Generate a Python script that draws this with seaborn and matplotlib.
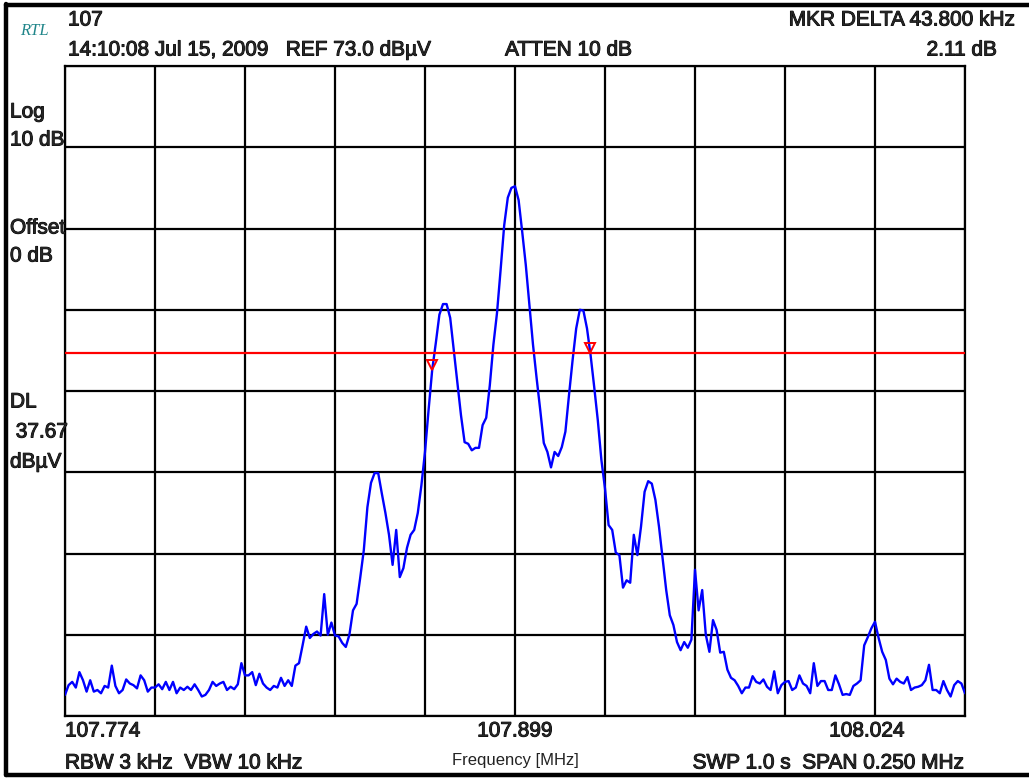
import numpy as np
import pandas as pd
import matplotlib
matplotlib.use("Agg")
import matplotlib.pyplot as plt
import matplotlib.patheffects as pe
import seaborn as sns
from matplotlib.lines import Line2D

# --- sweep settings ---
start_mhz = 107.774
center_mhz = 107.899
stop_mhz = 108.024
ref_level = 73.0      # dBuV, top of screen
db_per_div = 10
n_ydiv = 8
display_line = 37.67  # DL, dBuV

# trace level in dBuV, one reading per 1 kHz (251 sweep points)
level_dbuv = [
    -4.4, -3.2, -2.8, -3.5, -1.6, -2.6, -4.0, -2.6, -4.0, -3.8,
    -4.2, -3.3, -3.5, -0.8, -3.3, -4.2, -3.8, -2.5, -3.0, -3.2,
    -3.6, -2.0, -2.6, -4.0, -3.5, -3.5, -3.1, -3.7, -2.8, -3.8,
    -2.8, -4.2, -3.5, -3.8, -3.4, -3.8, -3.1, -3.8, -4.6, -4.4,
    -3.8, -2.8, -3.3, -3.0, -2.8, -3.8, -3.4, -3.7, -3.1, -0.5,
    -2.0, -2.0, -1.6, -3.2, -1.8, -3.0, -3.5, -3.8, -3.3, -3.5,
    -2.3, -3.3, -2.6, -3.3, -0.8, -0.5, 1.7, 4.0, 2.6, 3.1,
    3.4, 2.9, 8.0, 3.0, 4.5, 2.9, 2.8, 2.0, 1.5, 3.0,
    6.0, 6.8, 10.0, 13.4, 18.7, 21.7, 22.9, 22.9, 20.4, 18.0,
    15.3, 11.6, 15.9, 10.1, 11.2, 13.7, 15.3, 15.9, 18.0, 21.4,
    25.5, 30.7, 35.6, 38.9, 42.4, 43.7, 43.7, 42.0, 38.0, 34.1,
    30.0, 26.7, 26.5, 25.7, 26.0, 26.0, 28.8, 29.7, 33.7, 38.7,
    42.6, 47.9, 53.4, 56.8, 58.0, 58.2, 56.5, 52.6, 48.5, 43.6,
    38.7, 34.6, 30.7, 26.6, 25.5, 23.6, 25.5, 25.0, 26.1, 28.0,
    32.5, 36.8, 40.7, 43.0, 42.9, 40.7, 37.4, 33.5, 29.4, 24.5,
    21.0, 16.5, 15.9, 13.1, 12.8, 8.8, 9.7, 9.4, 15.3, 12.8,
    16.3, 20.6, 21.9, 21.6, 19.6, 16.3, 12.4, 8.5, 5.4, 4.2,
    2.1, 1.1, 2.1, 1.4, 2.4, 11.0, 6.0, 8.5, 3.0, 0.9,
    4.8, 3.6, 0.8, 0.9, -1.3, -2.3, -2.6, -3.3, -4.2, -3.5,
    -3.5, -2.1, -2.8, -3.0, -2.5, -3.4, -3.8, -1.5, -4.2, -3.2,
    -2.8, -2.7, -3.8, -3.5, -2.0, -3.0, -3.3, -4.2, -0.5, -3.3,
    -2.7, -2.7, -3.8, -3.8, -2.0, -3.1, -4.4, -4.3, -4.4, -3.3,
    -3.0, -2.6, 1.7, 2.7, 3.8, 4.6, 2.6, 0.9, -0.1, -2.4,
    -3.1, -2.4, -2.8, -3.0, -2.2, -3.8, -3.5, -3.4, -3.2, -2.6,
    -0.7, -3.8, -3.8, -4.2, -2.7, -3.8, -4.6, -3.2, -2.7, -3.0,
    -4.2,
]

# delta markers
marker_freq = [107.8760, 107.9198]
marker_level = [35.7, 37.8]

freq = np.linspace(start_mhz, stop_mhz, len(level_dbuv))
df = pd.DataFrame({"freq": freq, "level": level_dbuv})

sns.set_style("white")
plt.rcParams["font.family"] = ["Liberation Sans", "DejaVu Sans"]

W, H = 1029, 778
fig = plt.figure(figsize=(W / 100, H / 100), dpi=100)
ax = fig.add_axes([65 / W, 1 - 716 / H, 900 / W, 650 / H])

bottom_level = ref_level - db_per_div * n_ydiv
ax.set_xlim(start_mhz, stop_mhz)
ax.set_ylim(bottom_level, ref_level)
ax.set_xticks(np.linspace(start_mhz, stop_mhz, 11))
ax.set_yticks(np.linspace(bottom_level, ref_level, n_ydiv + 1))
ax.grid(True, color="black", lw=1.6)
ax.tick_params(length=0, labelbottom=False, labelleft=False)
for sp in ax.spines.values():
    sp.set_color("black")
    sp.set_linewidth(1.6)

sns.lineplot(data=df, x="freq", y="level", ax=ax, color="#0000ff", lw=1.7,
             estimator=None, sort=False, zorder=3)
ax.axhline(display_line, color="#ff0000", lw=1.6, zorder=4)
ax.plot(marker_freq, [v + 0.45 for v in marker_level], ls="none", marker="v",
        ms=7, mfc="none", mec="#ff0000", mew=1.4, zorder=5)
ax.set_xlabel("")
ax.set_ylabel("")

heavy = [pe.withStroke(linewidth=0.7, foreground="black")]


def put(x, y, s, ha="left", **kw):
    kw.setdefault("fontsize", 15)
    kw.setdefault("path_effects", heavy)
    fig.text(x / W, 1 - y / H, s, ha=ha, va="center", **kw)


# screen annotations
put(20, 31, "RTL", family="Liberation Serif", style="italic", fontsize=12,
    color="#21868a", path_effects=[])
put(68, 20, "107")
put(68, 50, "14:10:08 Jul 15, 2009   REF 73.0 dBµV")
put(505, 50, "ATTEN 10 dB")
put(1016, 20, "MKR DELTA 43.800 kHz", ha="right")
put(997, 50, "2.11 dB", ha="right")

put(10, 112, "Log")
put(10, 140, "10 dB")
put(10, 228, "Offset")
put(10, 256, "0 dB")
put(10, 402, "DL")
put(10, 432, " 37.67")
put(10, 462, "dBµV")

put(65, 731, "107.774")
put(515, 731, "107.899", ha="center")
put(867, 731, "108.024", ha="center")
put(65, 763, "RBW 3 kHz  VBW 10 kHz")
put(515, 760, "Frequency [MHz]", ha="center", fontsize=12, color="#222222",
    path_effects=[])
put(965, 763, "SWP 1.0 s  SPAN 0.250 MHz", ha="right")

# outer bezel
for xs, ys in [([6, 6], [4, 775]), ([6, W], [5, 5]), ([6, W], [775, 775])]:
    fig.add_artist(Line2D([x / W for x in xs], [1 - y / H for y in ys],
                          color="black", lw=3.2))

fig.savefig("out.png", dpi=100)
